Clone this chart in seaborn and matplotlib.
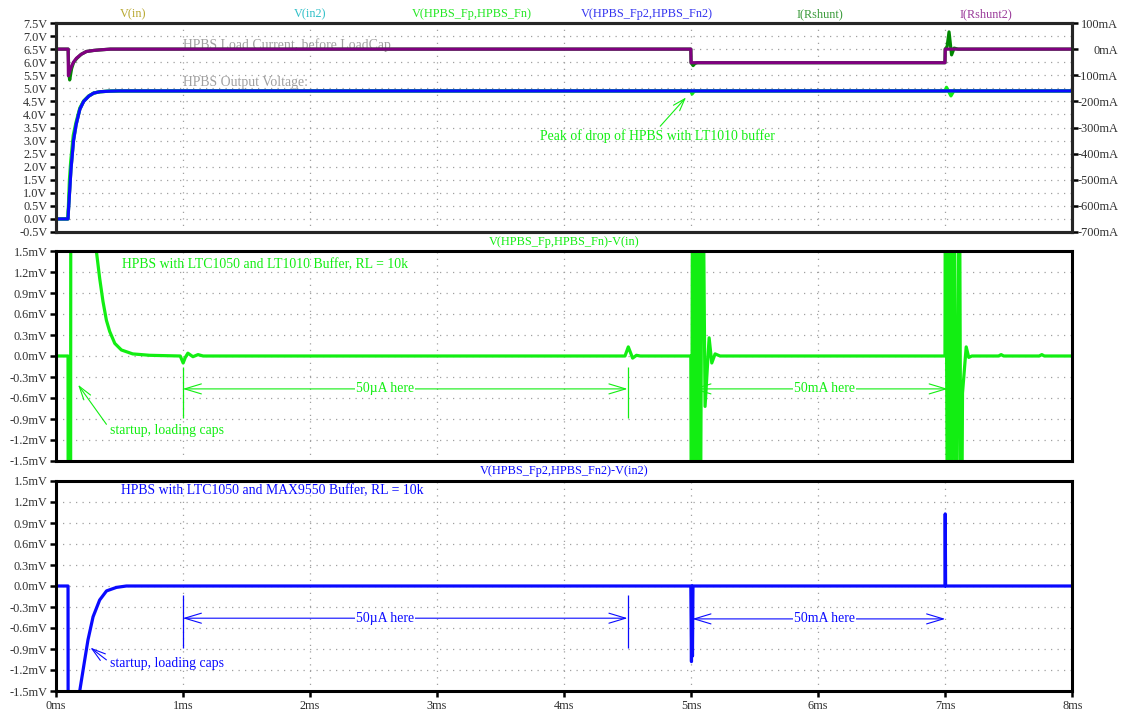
import matplotlib
matplotlib.use("Agg")
import matplotlib.pyplot as plt
from matplotlib.ticker import FixedLocator, FuncFormatter
import seaborn as sns

# ---------------- waveform data (time in ms) ----------------
# top pane, volts: buffered output of the LT1010 and MAX9550 versions
t_out2 = [0, 0.097, 0.1, 0.105, 0.11, 0.12, 0.14, 0.16, 0.19, 0.22, 0.26, 0.30, 0.35, 0.42, 0.5, 8.0]
v_out2 = [0, 0, 0.3, 0.7, 1.1, 1.9, 3.0, 3.6, 4.2, 4.5, 4.7, 4.82, 4.87, 4.89, 4.9, 4.9]

t_out1 = [0, 0.095, 0.1, 0.104, 0.108, 0.118, 0.138, 0.16, 0.19, 0.22, 0.26, 0.30, 0.35, 0.42, 0.5,
          4.998, 5.008, 5.02, 5.035, 6.998, 7.01, 7.045, 7.07, 7.09, 8.0]
v_out1 = [0, 0, 0.5, 1.0, 1.5, 2.2, 3.2, 3.7, 4.25, 4.52, 4.71, 4.82, 4.87, 4.89, 4.9,
          4.9, 4.78, 4.86, 4.9, 4.9, 5.04, 4.71, 4.92, 4.9, 4.9]

# top pane, mA: shunt currents
t_ish2 = [0, 0.098, 0.1, 0.11, 0.123, 0.14, 0.163, 0.2, 0.242, 0.3, 0.346, 0.43, 4.998, 5.0, 6.998, 7.0, 8.0]
i_ish2 = [0, 0, -102, -86, -67, -50, -35, -20, -9, -5, -3, 0, 0, -52, -52, 0, 0]

t_ish1 = [0, 0.098, 0.103, 0.11, 0.125, 0.14, 0.165, 0.2, 0.242, 0.3, 0.346, 0.43,
          4.998, 5.0, 5.016, 5.03, 5.05, 6.998, 7.0, 7.015, 7.03, 7.05, 7.07, 7.1, 8.0]
i_ish1 = [0, 0, -90, -118, -75, -52, -36, -20, -9, -5, -3, 0,
          0, -52, -63, -55, -52, -52, 0, 10, 66, -22, 4, 0, 0]

# middle pane, mV: V(HPBS_Fp,HPBS_Fn)-V(in)
t_err1 = [0, 0.097, 0.099, 0.117, 0.119, 0.15, 0.158, 0.162, 0.17, 0.30, 0.32, 0.346, 0.372,
          0.399, 0.425, 0.465, 0.517, 0.606, 0.74, 0.98, 1.003, 1.02, 1.04, 1.08, 1.12, 1.16,
          4.48, 4.506, 4.54, 4.57, 4.6,
          4.998, 5.004, 5.012, 5.02, 5.03, 5.045, 5.058, 5.071, 5.089, 5.11, 5.142, 5.163, 5.189, 5.228,
          6.998, 7.002, 7.02, 7.035, 7.05, 7.066, 7.087, 7.11, 7.126, 7.136, 7.165, 7.185, 7.21,
          7.42, 7.44, 7.46, 7.74, 7.76, 7.78, 8.0]
v_err1 = [0, 0, -4, -4, 4, 4, 1.55, 4, 4, 1.9, 1.5, 1.11, 0.78,
          0.51, 0.35, 0.18, 0.086, 0.03, 0.01, 0, -0.1, -0.02, 0.04, -0.01, 0.02, 0,
          0, 0.13, -0.03, 0.01, 0,
          0, -4, 4, -4, 4, -4, 4, -4, 4, -0.72, 0.26, -0.1, 0.03, 0,
          0, 4, -4, 4, -4, 4, -4, 4, -4, -0.53, 0.13, -0.02, 0,
          0, 0.02, 0, 0, 0.02, 0, 0]

# bottom pane, mV: V(HPBS_Fp2,HPBS_Fn2)-V(in2)
t_err2 = [0, 0.097, 0.099, 0.18, 0.189, 0.228, 0.254, 0.294, 0.346, 0.40, 0.478, 0.556,
          4.998, 5.003, 5.007, 5.011, 5.015, 6.998, 7.0, 7.003, 8.0]
v_err2 = [0, 0, -5, -1.75, -1.5, -1.06, -0.77, -0.44, -0.2, -0.07, -0.02, 0,
          0, -1.08, 0, -1.0, 0, 0, 1.03, 0, 0]

# ---------------- axis ticks and labels ----------------
x_ticks = list(range(0, 9))
v_ticks = [-0.5, 0.0, 0.5, 1.0, 1.5, 2.0, 2.5, 3.0, 3.5, 4.0, 4.5, 5.0, 5.5, 6.0, 6.5, 7.0, 7.5]
ma_ticks = [-700, -600, -500, -400, -300, -200, -100, 0, 100]
mv_ticks = [-1.5, -1.2, -0.9, -0.6, -0.3, 0.0, 0.3, 0.6, 0.9, 1.2, 1.5]

trace_names = ["V(in)", "V(in2)", "V(HPBS_Fp,HPBS_Fn)", "V(HPBS_Fp2,HPBS_Fn2)", "I(Rshunt)", "I(Rshunt2)"]
trace_label_colors = ["#b8a830", "#30c0c8", "#22e822", "#3434f0", "#3a9a3a", "#9a3a9a"]
trace_label_x = [133, 310, 472, 647, 820, 986]

# ---------------- style ----------------
sns.set_theme(style="white")
plt.rcParams["font.family"] = ["Liberation Serif", "DejaVu Serif"]
plt.rcParams["axes.linewidth"] = 2.2

FS_TICK = 8.8      # tick labels and trace names
FS_NOTE = 9.9      # free annotations

GREEN = "#12ee12"
BLUE = "#0a0aff"
PURPLE = "#800080"
DKGREEN = "#008800"
OLIVE = "#b0a020"
CYAN = "#20c0c0"
GREY_TXT = "#a0a0a0"
LABEL_COL = "#303030"
LW = 2.3
GRID_LS = (0, (1, 4.2))

W, H = 1122, 713
fig = plt.figure(figsize=(W / 100, H / 100), dpi=100)
fig.patch.set_facecolor("white")

left = 55.7 / W
width = (1072.3 - 55.7) / W


def pane(top_px, bot_px):
    return fig.add_axes([left, 1 - bot_px / H, width, (bot_px - top_px) / H])


ax1 = pane(23, 232)
ax2 = pane(251, 461)
ax3 = pane(481, 691)


def style_axis(ax, yticks, fmt, show_x):
    ax.set_xlim(0, 8)
    ax.set_ylim(yticks[0], yticks[-1])
    ax.xaxis.set_major_locator(FixedLocator(x_ticks))
    ax.yaxis.set_major_locator(FixedLocator(yticks))
    ax.yaxis.set_major_formatter(FuncFormatter(fmt))
    ax.grid(True, color="#a0a0a0", linestyle=GRID_LS, linewidth=0.9)
    for s in ax.spines.values():
        s.set_color("black")
        s.set_linewidth(2.2)
    ax.tick_params(axis="y", direction="out", length=4.5, width=1.8, pad=1.5, colors="black",
                   labelcolor=LABEL_COL, labelsize=FS_TICK, left=True)
    if show_x:
        ax.xaxis.set_major_formatter(FuncFormatter(lambda v, p: f"{int(v)}ms"))
        ax.tick_params(axis="x", direction="out", length=4.5, width=1.8, pad=2, colors="black",
                       labelcolor=LABEL_COL, labelsize=FS_TICK, bottom=True)
    else:
        ax.tick_params(axis="x", bottom=False, labelbottom=False)
    ax.set_xlabel("")
    ax.set_ylabel("")


def line(ax, x, y, color, lw=LW, z=2):
    sns.lineplot(x=x, y=y, ax=ax, color=color, linewidth=lw, estimator=None, sort=False,
                 legend=False, zorder=z)


# ---------------- top pane ----------------
line(ax1, t_out2, v_out2, OLIVE, z=2)
line(ax1, t_out2, v_out2, CYAN, z=2.1)
line(ax1, t_out1, v_out1, GREEN, z=2.2)
line(ax1, t_out2, v_out2, BLUE, z=2.3)
style_axis(ax1, v_ticks, lambda v, p: f"{v:.1f}V", False)

ax1r = ax1.twinx()
line(ax1r, t_ish1, i_ish1, DKGREEN, z=2.4)
line(ax1r, t_ish2, i_ish2, PURPLE, z=2.5)
ax1r.set_ylim(ma_ticks[0], ma_ticks[-1])
ax1r.yaxis.set_major_locator(FixedLocator(ma_ticks))
ax1r.yaxis.set_major_formatter(FuncFormatter(lambda v, p: f"{int(v)}mA"))
ax1r.tick_params(axis="y", direction="out", length=4.5, width=1.8, pad=28.5, colors="black",
                 labelcolor=LABEL_COL, labelsize=FS_TICK, right=True)
for lab in ax1r.get_yticklabels():
    lab.set_horizontalalignment("right")
ax1r.grid(False)
ax1r.set_ylabel("")
for s in ax1r.spines.values():
    s.set_linewidth(2.2)

for name, col, xp in zip(trace_names, trace_label_colors, trace_label_x):
    fig.text(xp / W, 1 - 14 / H, name, color=col, ha="center", va="center", fontsize=FS_TICK)

ax1.text(1.0, 6.66, "HPBS Load Current, before LoadCap", color=GREY_TXT, ha="left",
         va="center", fontsize=FS_NOTE, zorder=1)
ax1.text(1.0, 5.24, "HPBS Output Voltage:", color=GREY_TXT, ha="left", va="center",
         fontsize=FS_NOTE, zorder=1)
ax1.annotate("Peak of drop of HPBS with LT1010 buffer", xy=(4.96, 4.65), xytext=(3.81, 3.16),
             color=GREEN, fontsize=FS_NOTE, ha="left", va="center",
             arrowprops=dict(arrowstyle="->,head_length=0.9,head_width=0.3", color=GREEN,
                             lw=0.8, shrinkA=0, shrinkB=0, relpos=(0.5, 1.0)))

# ---------------- middle pane ----------------
line(ax2, t_err1, v_err1, GREEN)
style_axis(ax2, mv_ticks, lambda v, p: f"{v:.1f}mV", False)
ax2.text(0.5, 1.0 + 9 / 210, "V(HPBS_Fp,HPBS_Fn)-V(in)", transform=ax2.transAxes,
         color=GREEN, ha="center", va="center", fontsize=FS_TICK)

# bottom pane
line(ax3, t_err2, v_err2, BLUE)
style_axis(ax3, mv_ticks, lambda v, p: f"{v:.1f}mV", True)
ax3.text(0.5, 1.0 + 10 / 210, "V(HPBS_Fp2,HPBS_Fn2)-V(in2)", transform=ax3.transAxes,
         color=BLUE, ha="center", va="center", fontsize=FS_TICK)

# ---------------- annotations on the two error panes ----------------
ARW = "->,head_length=1.0,head_width=0.3"
DARW = "<->,head_length=1.0,head_width=0.3"


def span_note(ax, color, x0, x1, y, label, xlabel, ends=None):
    ax.annotate("", xy=(x1, y), xytext=(x0, y),
                arrowprops=dict(arrowstyle=DARW, color=color, lw=0.8, shrinkA=0, shrinkB=0))
    ax.text(xlabel, y, label, color=color, ha="center", va="center", fontsize=FS_NOTE,
            bbox=dict(facecolor="white", edgecolor="none", pad=0.6))
    if ends is not None:
        for xe in (x0, x1):
            ax.vlines(xe, ends[0], ends[1], color=color, lw=0.9, zorder=3)


# middle
ax2.text(0.52, 1.31, "HPBS with LTC1050 and LT1010 Buffer, RL = 10k", color=GREEN,
         ha="left", va="center", fontsize=FS_NOTE)
ax2.annotate("startup, loading caps", xy=(0.176, -0.41), xytext=(0.425, -1.06), color=GREEN,
             fontsize=FS_NOTE, ha="left", va="center",
             arrowprops=dict(arrowstyle=ARW, color=GREEN, lw=0.8, shrinkA=0, shrinkB=0,
                             relpos=(0.0, 0.6)))
span_note(ax2, GREEN, 1.0, 4.5, -0.47, "50µA here", 2.59, ends=(-0.16, -0.89))
span_note(ax2, GREEN, 5.01, 7.02, -0.47, "50mA here", 6.05)

# bottom
ax3.text(0.51, 1.36, "HPBS with LTC1050 and MAX9550 Buffer, RL = 10k", color=BLUE,
         ha="left", va="center", fontsize=FS_NOTE)
ax3.annotate("startup, loading caps", xy=(0.273, -0.88), xytext=(0.425, -1.11), color=BLUE,
             fontsize=FS_NOTE, ha="left", va="center",
             arrowprops=dict(arrowstyle=ARW, color=BLUE, lw=0.8, shrinkA=0, shrinkB=0,
                             relpos=(0.0, 0.6)))
span_note(ax3, BLUE, 1.0, 4.5, -0.46, "50µA here", 2.59, ends=(-0.13, -0.89))
span_note(ax3, BLUE, 5.01, 7.0, -0.47, "50mA here", 6.05)

fig.savefig("out.png", dpi=100, facecolor="white")
